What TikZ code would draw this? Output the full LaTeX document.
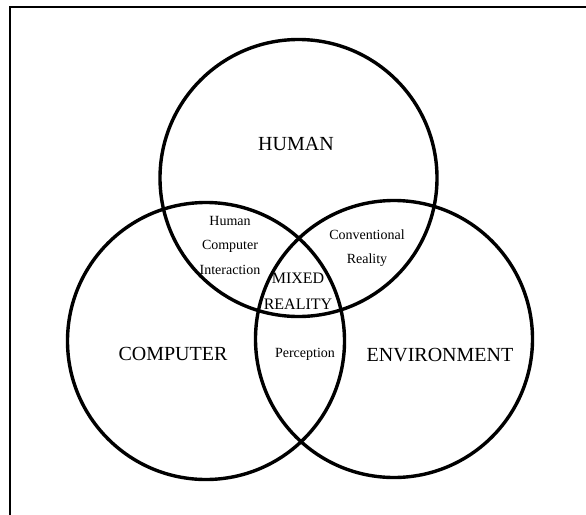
\documentclass[tikz,border=0pt]{standalone}
\usepackage{fontspec}
\setmainfont{Liberation Serif}
\usepackage{xcolor}

\begin{document}
\begin{tikzpicture}[x=1pt, y=-1pt]
\useasboundingbox (0,0) rectangle (586,514);
\clip (0,0) rectangle (586,514);

%frame
\draw [line width=2pt] (10,6.5) rectangle (600,530);

%circle centres
\coordinate (human) at (298.5,178); \coordinate (computer) at (206,341); \coordinate (environment) at (394,339);

%circles draw
\draw [line width=3.4pt] (human) circle (138.5);
\draw [line width=3.4pt] (computer) circle (138.5);
\draw [line width=3.4pt] (environment) circle (138.5);

%set labels
\node [font=\fontsize{20}{24}\selectfont] (humanlbl) at (296,144) {HUMAN};
\node [font=\fontsize{20}{24}\selectfont] (computerlbl) at (173,354) {COMPUTER};
\node [font=\fontsize{20}{24}\selectfont] (environmentlbl) at (440,355) {ENVIRONMENT};

%overlap labels
\node [font=\fontsize{14}{24.5}\selectfont, align=center] (hcilbl) at (230,245) {Human\\Computer\\Interaction};
\node [font=\fontsize{14}{24}\selectfont, align=center] (convlbl) at (367,248.5) {Conventional\\Reality};
\node [font=\fontsize{14}{24}\selectfont] (perceptionlbl) at (305,354) {Perception};
\node [font=\fontsize{16}{26}\selectfont, align=center] (mixedlbl) at (298,291) {MIXED\\REALITY};

\end{tikzpicture}
\end{document}
